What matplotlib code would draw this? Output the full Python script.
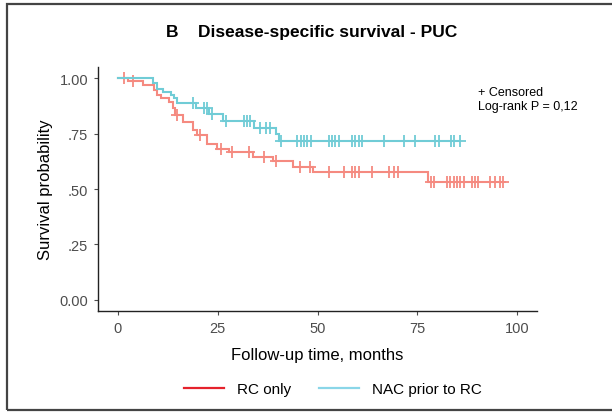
import numpy as np
import matplotlib
matplotlib.use("Agg")
import matplotlib.pyplot as plt
from matplotlib.lines import Line2D
from matplotlib.patches import Rectangle

# ---- data ----
rc_times = [2.5, 6.2, 9.1, 9.9, 10.8, 12.8, 13.7, 14.3, 16.2, 18.7, 19.9, 22.4, 24.9, 27.8, 33.9, 38.9, 43.9, 48.9, 77.8]
rc_surv = [0.985, 0.970, 0.948, 0.925, 0.910, 0.893, 0.865, 0.835, 0.802, 0.765, 0.742, 0.702, 0.679, 0.667, 0.643, 0.628, 0.600, 0.576, 0.533]
rc_end = 96.4
rc_censor = [1.6, 3.7, 14.8, 20.6, 25.75, 28.7, 32.8, 36.6, 39.5, 45.5, 48.0, 52.8, 56.6, 58.7, 59.5,
             60.3, 63.7, 67.8, 69.1, 70.1, 78.5, 79.3, 82.4, 83.25, 84.1, 84.9, 85.75, 86.6, 88.7,
             89.5, 90.3, 93.25, 94.5, 95.75, 96.4]

nac_times = [8.9, 9.9, 11.2, 13.25, 14.1, 14.9, 19.5, 22.8, 26.2, 34.1, 39.5, 40.3]
nac_surv = [0.977, 0.953, 0.938, 0.923, 0.908, 0.886, 0.867, 0.838, 0.807, 0.777, 0.750, 0.718]
nac_end = 85.75
nac_censor = [18.9, 21.6, 22.4, 23.5, 27.0, 31.6, 32.4, 33.1, 35.5, 37.0, 38.2, 40.8, 44.9, 45.75,
              46.6, 47.4, 48.25, 52.8, 53.7, 54.5, 55.3, 58.7, 59.5, 60.3, 61.2, 66.6, 71.6, 74.5,
              79.5, 80.5, 83.5, 84.3, 85.75]

group_labels = ["RC only", "NAC prior to RC"]
x_ticks = [0, 25, 50, 75, 100]
y_ticks = [0.0, 0.25, 0.5, 0.75, 1.0]
y_tick_labels = ["0.00", ".25", ".50", ".75", "1.00"]

title = "B    Disease-specific survival - PUC"
annot = "+ Censored\nLog-rank P = 0,12"

# ---- styling ----
curve_colors = ["#F58A80", "#70CCD6"]
legend_colors = ["#E5222C", "#8AD6E8"]

plt.rcParams['font.family'] = ['Liberation Sans', 'DejaVu Sans']

fig = plt.figure(figsize=(6.12, 4.14), dpi=100)
ax = fig.add_axes([98/612, 1-312/414, (537-98)/612, (312-68)/414])


def km_arrays(times, surv, end):
    x = np.concatenate([[0.0], times, [end]])
    y = np.concatenate([[1.0], surv, [surv[-1]]])
    return x, y


def eval_step(times, surv, t):
    tt = np.concatenate([[0.0], times])
    ss = np.concatenate([[1.0], surv])
    idx = np.searchsorted(tt, np.asarray(t), side='right') - 1
    return ss[idx]


groups = [(rc_times, rc_surv, rc_end, rc_censor), (nac_times, nac_surv, nac_end, nac_censor)]
for (times, surv, end, cens), col in zip(groups, curve_colors):
    x, y = km_arrays(times, surv, end)
    ax.step(x, y, where='post', color=col, lw=1.5, solid_joinstyle='miter')
    ax.plot(cens, eval_step(times, surv, cens), ls='none', marker='+', ms=8, mew=1.3, color=col)

ax.set_xlim(-5, 105)
ax.set_ylim(-0.05, 1.05)
ax.set_xticks(x_ticks)
ax.set_yticks(y_ticks)
ax.set_yticklabels(y_tick_labels)
for s in ['top', 'right']:
    ax.spines[s].set_visible(False)
for s in ['left', 'bottom']:
    ax.spines[s].set_color('#222222')
    ax.spines[s].set_linewidth(1.0)
ax.tick_params(axis='both', colors='#4D4D4D', labelsize=10.5, length=3, width=0.8, pad=4)
for lab in ax.get_xticklabels() + ax.get_yticklabels():
    lab.set_color('#4D4D4D')

ax.set_xlabel("Follow-up time, months", fontsize=12, color='black', labelpad=9)
ax.set_ylabel("Survival probability", fontsize=12, color='black', labelpad=5)

ax.text(478/612, 1-100/414, annot, transform=fig.transFigure, fontsize=9, va='center',
        ha='left', linespacing=1.2)

fig.text(312/612, 1-33/414, title, fontsize=12.5, fontweight='bold', ha='center', va='center')

# legend
handles = [Line2D([], [], color=c, lw=1.6) for c in legend_colors]
fig.legend(handles, group_labels, loc='center', bbox_to_anchor=(333/612, 1-390/414), ncol=2,
           frameon=False, fontsize=11, handlelength=2.6, columnspacing=1.8, handletextpad=0.9)

# figure border
fig.patches.append(Rectangle((7/612, 1-411/414), 1.0, 406/414, transform=fig.transFigure,
                             fill=False, edgecolor='#444444', lw=1.6))

fig.savefig("out.png", dpi=100)
